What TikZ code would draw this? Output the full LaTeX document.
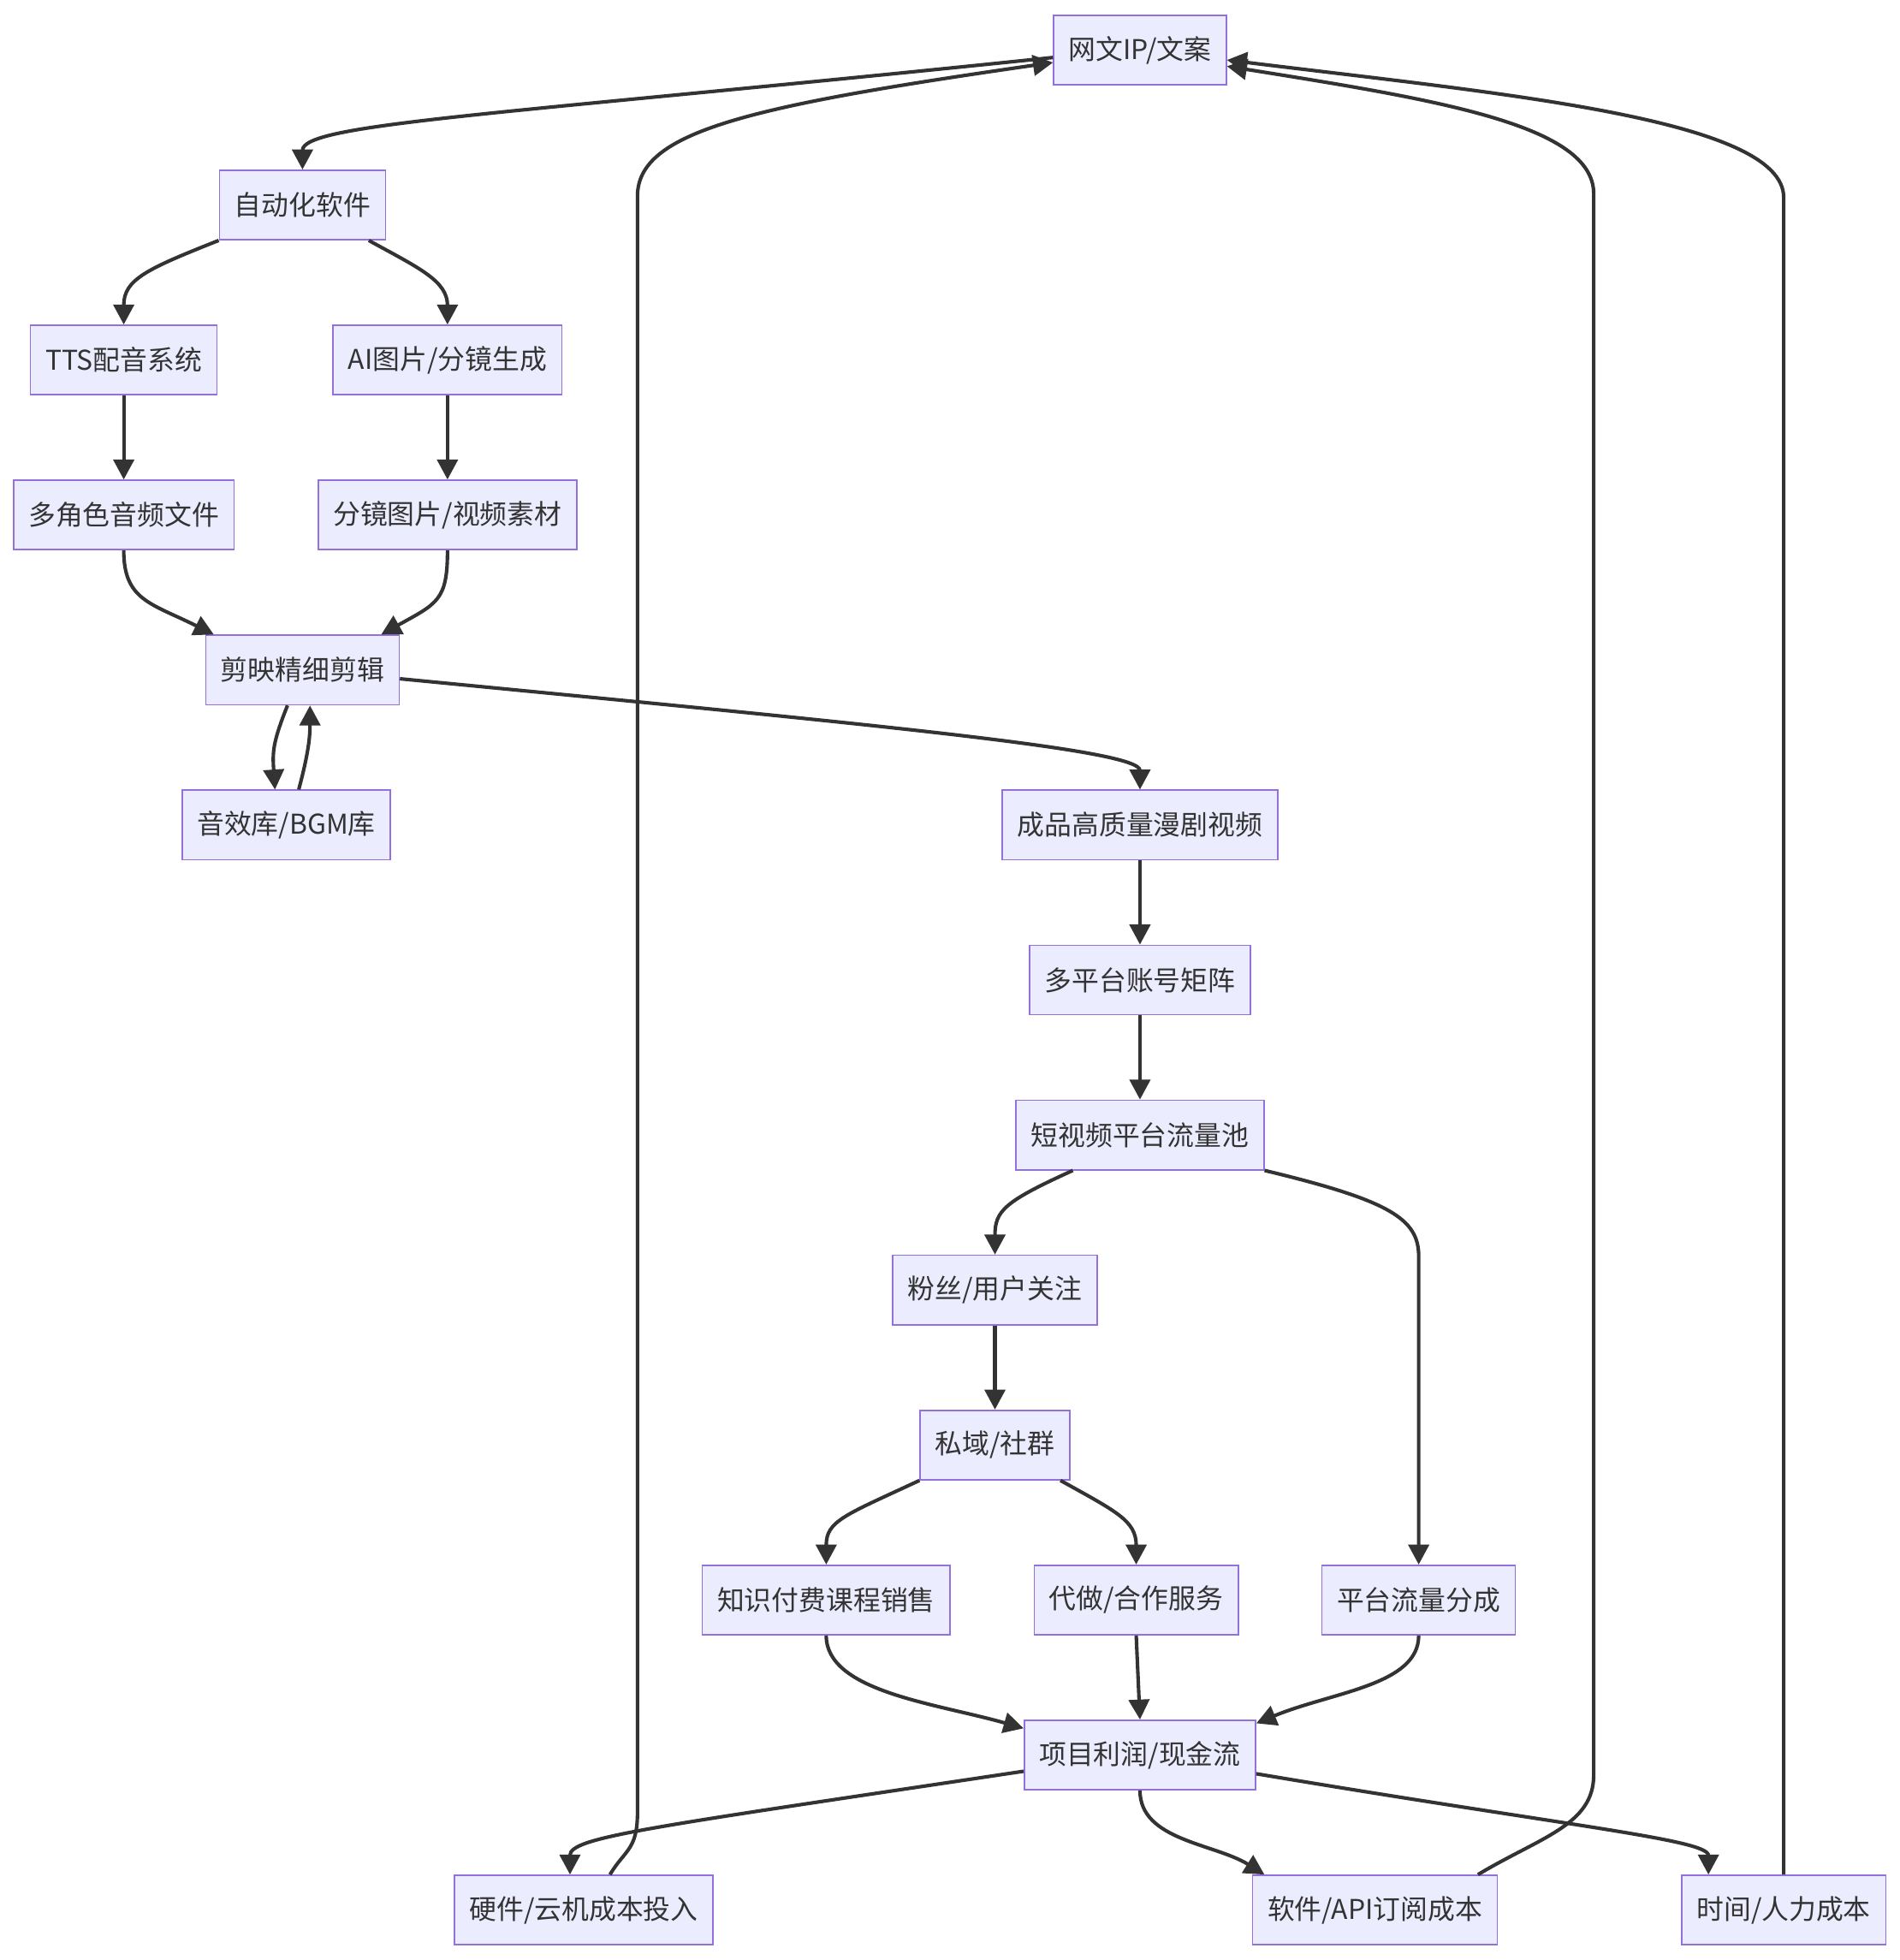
\documentclass[tikz,border=0pt]{standalone}
\usepackage{fontspec}
\setmainfont{Noto Sans CJK SC}
\usetikzlibrary{arrows.meta}
\definecolor{boxfill}{HTML}{ECECFF}
\definecolor{boxline}{HTML}{9370DB}
\definecolor{ink}{HTML}{333333}

\begin{document}
\begin{tikzpicture}[x=0.05cm,y=-0.05cm,
    box/.style={draw=boxline,fill=boxfill,line width=1.6pt,text=ink,
        minimum height=2.78cm,inner xsep=0.6cm,inner ysep=0pt,
        font=\fontsize{31}{37}\selectfont},
    link/.style={draw=ink,line width=4pt,-{Triangle[length=0.8cm,width=0.82cm]}}]
    \useasboundingbox (0,0) rectangle (1520,1568);

    % production chain
    \node[box] (ip) at (912,40) {网文IP/文案};
    \node[box] (auto) at (242,164) {自动化软件};
    \node[box] (tts) at (99,288) {TTS配音系统};
    \node[box] (aipic) at (358,288) {AI图片/分镜生成};
    \node[box] (audio) at (99,412) {多角色音频文件};
    \node[box] (frames) at (358,412) {分镜图片/视频素材};
    \node[box] (edit) at (242,536) {剪映精细剪辑};
    \node[box] (sfx) at (229,660) {音效库/BGM库};
    \node[box] (video) at (912,660) {成品高质量漫剧视频};
    \node[box] (matrix) at (912,784) {多平台账号矩阵};
    \node[box] (pool) at (912,908) {短视频平台流量池};

    % monetisation
    \node[box] (fans) at (796,1032) {粉丝/用户关注};
    \node[box] (group) at (796,1156) {私域/社群};
    \node[box] (course) at (661,1280) {知识付费课程销售};
    \node[box] (service) at (909,1280) {代做/合作服务};
    \node[box] (share) at (1135,1280) {平台流量分成};
    \node[box] (profit) at (912,1404) {项目利润/现金流};
    \node[box] (hw) at (467,1528) {硬件/云机成本投入};
    \node[box] (sw) at (1100,1528) {软件/API订阅成本};
    \node[box] (time) at (1427,1528) {时间/人力成本};

    \foreach \a/\b in {tts/audio,aipic/frames,video/matrix,matrix/pool,fans/group}
        \draw[link] (\a) -- (\b);

    \draw[link] ([yshift=-0.3cm]ip.west) .. controls +(-443,46) and +(0,-37) .. (auto.north);
    \draw[link] (auto.south west) .. controls +(-58,23) and +(0,-36) .. (tts.north);
    \draw[link] ([xshift=-0.7cm]auto.south east) .. controls +(40,22) and +(0,-35) .. (aipic.north);
    \draw[link] (audio.south) .. controls +(0,40) and +(-50,-25) .. ([xshift=0.35cm]edit.north west);
    \draw[link] (frames.south) .. controls +(0,40) and +(45,-25) .. ([xshift=-0.75cm]edit.north east);
    \draw[link] ([xshift=-0.6cm]edit.south) .. controls +(-12,30) and +(-2,-30) .. ([xshift=-0.45cm]sfx.north);
    \draw[link] ([xshift=0.5cm]sfx.north) .. controls +(8,-30) and +(0,25) .. ([xshift=0.3cm]edit.south);
    \draw[link] ([yshift=-0.35cm]edit.east) .. controls +(382,37) and +(0,-32) .. (video.north);

    \draw[link] ([xshift=2.3cm]pool.south west) .. controls +(-55,25) and +(0,-35) .. (fans.north);
    \draw[link] (pool.south east) .. controls +(100,24) and +(0,-30) .. (1135,1005) -- (share.north);
    \draw[link] (group.south west) .. controls +(-60,28) and +(0,-35) .. (course.north);
    \draw[link] ([xshift=-0.4cm]group.south east) .. controls +(45,25) and +(0,-35) .. (service.north);
    \draw[link] (course.south) .. controls +(0,45) and +(-70,-20) .. ([yshift=-0.35cm]profit.north west);
    \draw[link] (service.south) -- (profit.north);
    \draw[link] (share.south) .. controls +(0,40) and +(60,-25) .. ([yshift=-0.15cm]profit.north east);

    % costs feed back into the source
    \draw[link] ([yshift=-0.65cm]profit.west) .. controls +(-300,45) and +(0,-30) .. ([xshift=-0.55cm]hw.north);
    \draw[link] (profit.south) .. controls +(0,40) and +(-40,-25) .. ([xshift=0.5cm]sw.north west);
    \draw[link] ([yshift=-0.75cm]profit.east) .. controls +(250,42) and +(0,-28) .. ([xshift=1.1cm]time.north west);
    \draw[link] ([xshift=1.05cm]hw.north) .. controls +(12,-20) and +(0,30) .. (510,1450)
        -- (510,157) .. controls +(0,-52) and +(-243,35) .. ([yshift=-0.5cm]ip.west);
    \draw[link] ([xshift=-0.8cm]sw.north east) .. controls +(50,-30) and +(0,40) .. (1275,1420)
        -- (1275,155) .. controls +(0,-55) and +(169,27) .. ([yshift=-0.65cm]ip.east);
    \draw[link] (time.north) -- (1427,158) .. controls +(0,-63) and +(219,27) .. ([yshift=-0.4cm]ip.east);
\end{tikzpicture}
\end{document}
